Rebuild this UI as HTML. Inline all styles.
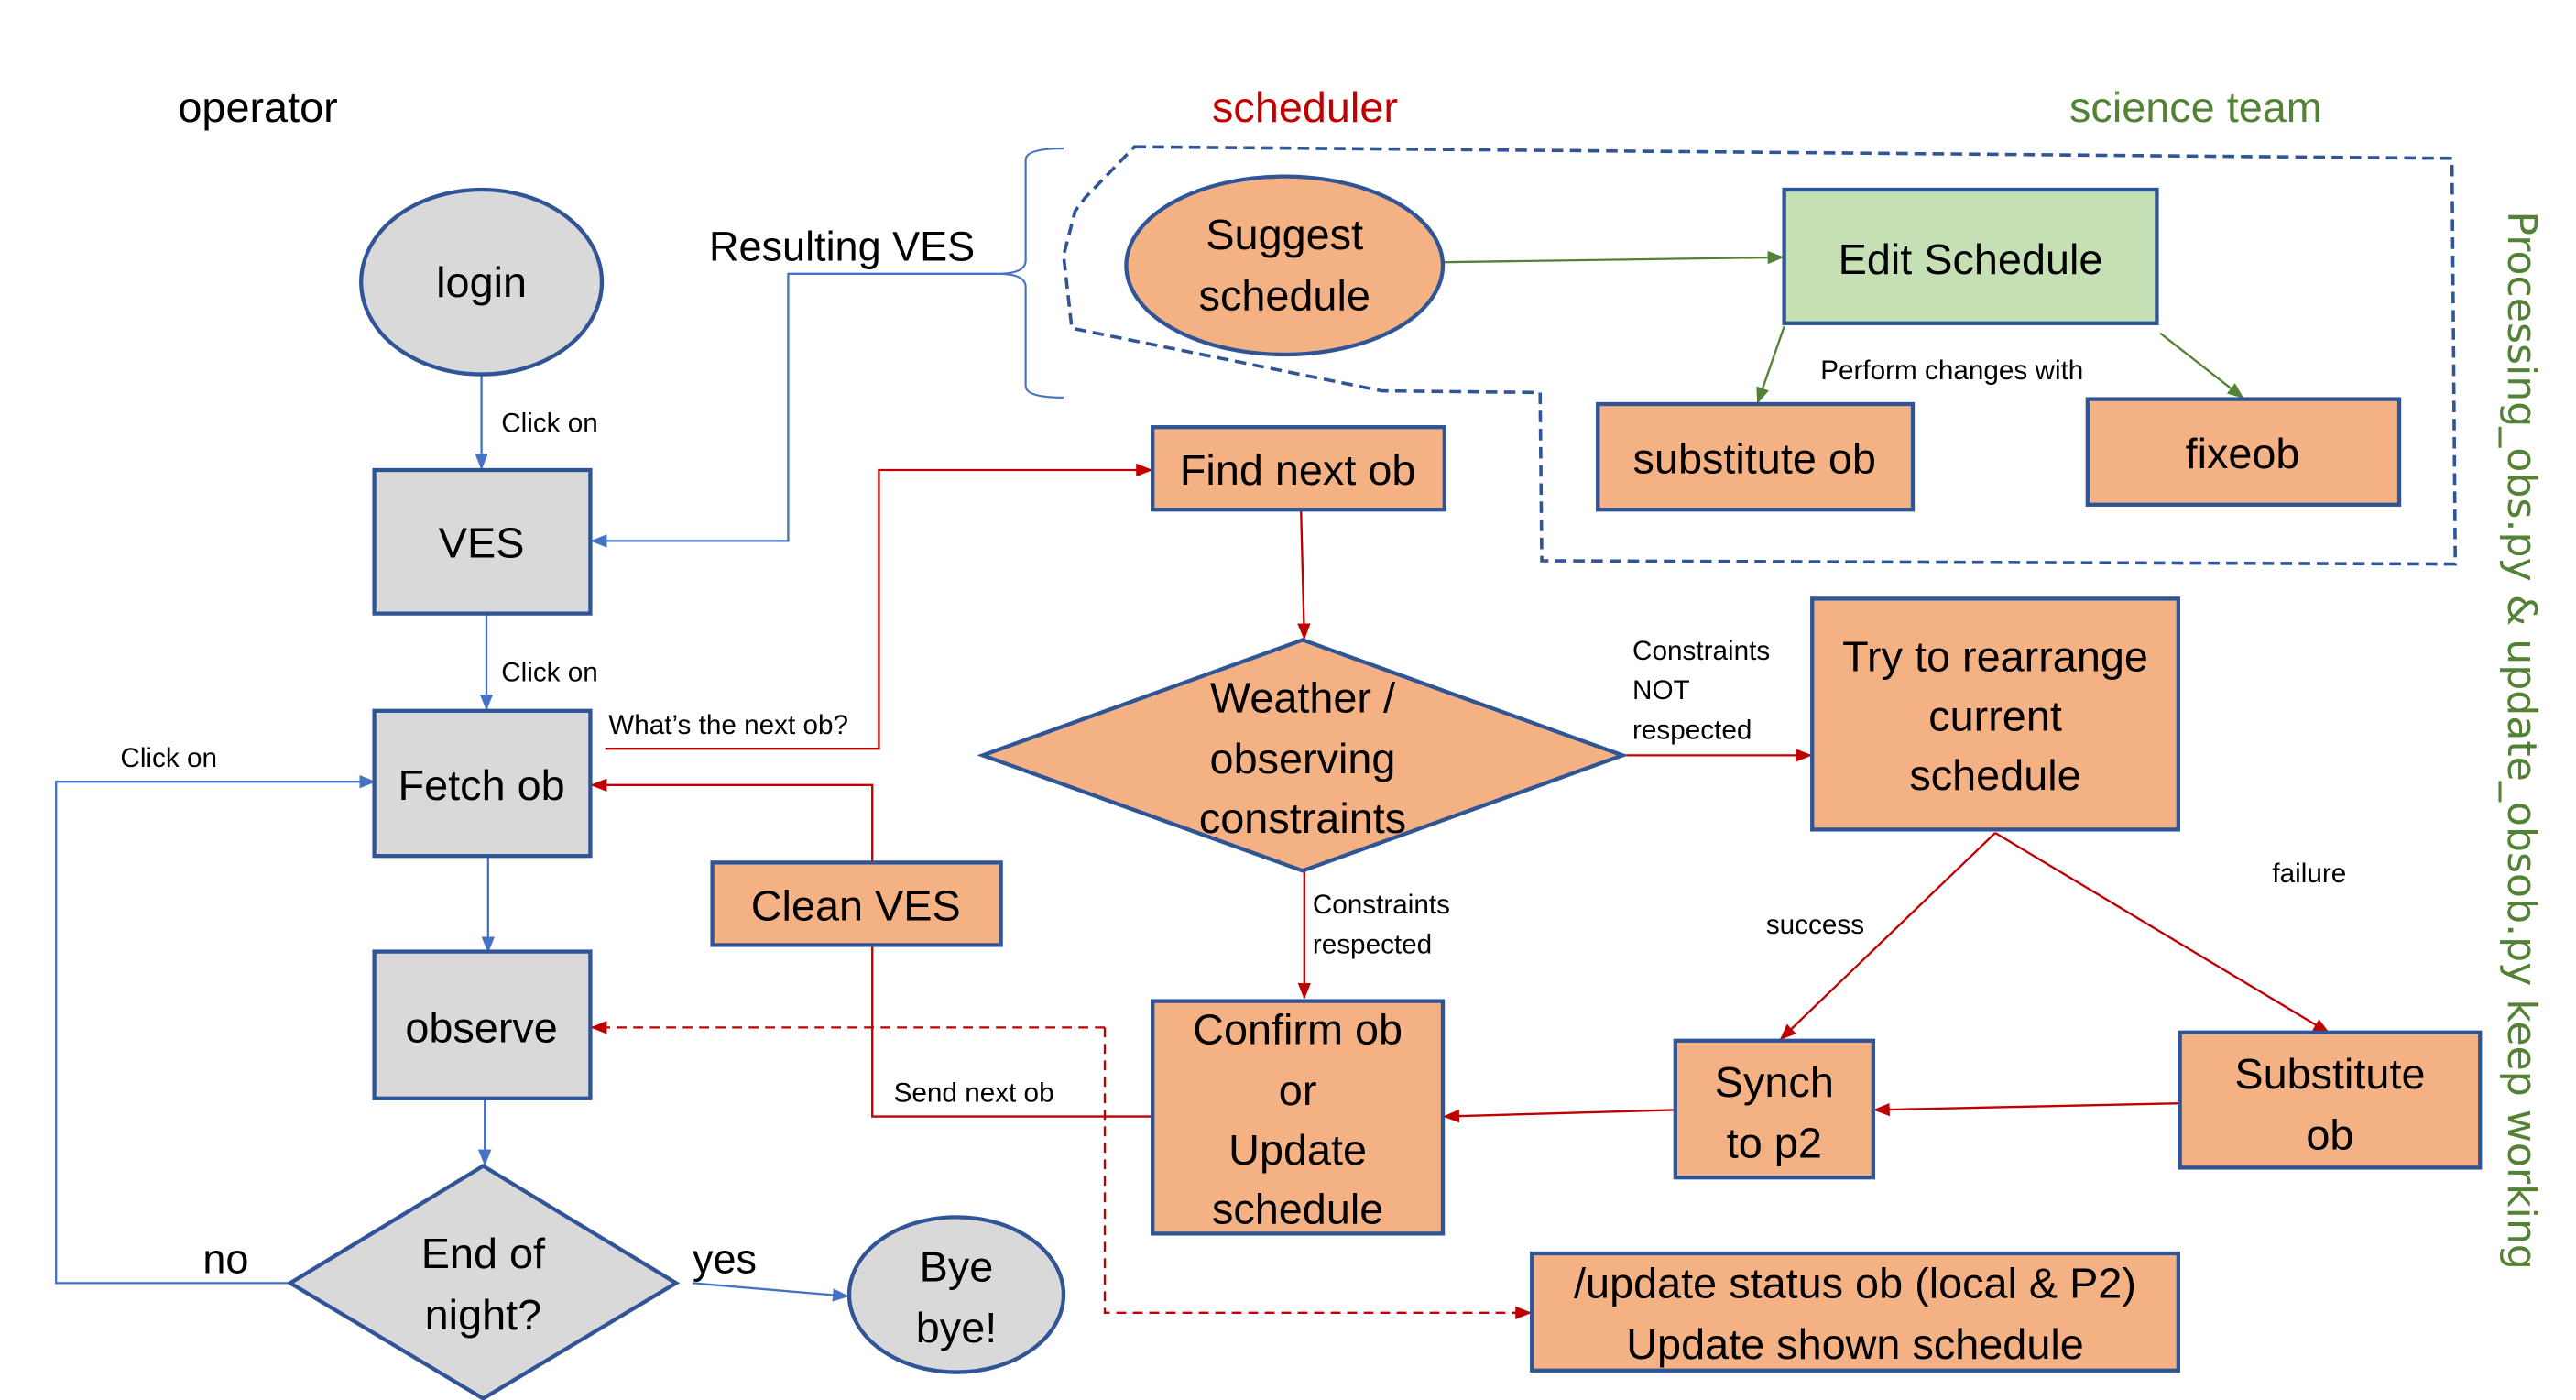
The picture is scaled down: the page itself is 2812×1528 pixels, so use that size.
<!DOCTYPE html>
<html><head><meta charset="utf-8"><style>
html,body{margin:0;padding:0;background:#fff;}
svg{display:block;}
text{font-family:"Liberation Sans Narrow","Liberation Sans",sans-serif;fill:#000;}
.big{font-size:25px;}
.sm{font-size:16.5px;}
</style></head><body>
<svg width="2812" height="1528" viewBox="0 0 1562.2 848.9" preserveAspectRatio="none" xmlns="http://www.w3.org/2000/svg">
<defs>
<marker id="ab" markerWidth="10" markerHeight="10" refX="9" refY="5" orient="auto" markerUnits="userSpaceOnUse"><path d="M0,1 L10,5 L0,9z" fill="#4472c4"/></marker>
<marker id="ar" markerWidth="10" markerHeight="10" refX="9" refY="5" orient="auto" markerUnits="userSpaceOnUse"><path d="M0,1 L10,5 L0,9z" fill="#c00000"/></marker>
<marker id="ag" markerWidth="10" markerHeight="10" refX="9" refY="5" orient="auto" markerUnits="userSpaceOnUse"><path d="M0,1 L10,5 L0,9z" fill="#548235"/></marker>
</defs>
<text x="108" y="74" style="font-size:26px">operator</text>
<text x="735" y="74" style="font-size:26px;fill:#c00000">scheduler</text>
<text x="1255" y="74" style="font-size:26px;fill:#548235">science team</text>
<text transform="translate(1521,128) rotate(90)" style="font-family:'DejaVu Sans',sans-serif;font-size:24px;fill:#548235" textLength="642" lengthAdjust="spacingAndGlyphs">Processing_obs.py &amp; update_obsob.py keep working</text>

<path d="M688,89 L1487,96 L1489,342 L935,340 L934,238 L838,237 L650,199 L645,155 L652,128 L658,120 Z" fill="none" stroke="#2f5597" stroke-width="2" stroke-dasharray="7,4"/>
<path d="M645,90 Q622,90 622,97 L622,158 Q622,166 605,166 Q622,166 622,174 L622,234 Q622,241 645,241" fill="none" stroke="#4472c4" stroke-width="1.2"/>
<text x="430" y="158" class="big">Resulting  VES</text>

<g stroke="#4472c4" stroke-width="1.3" fill="none">
<path d="M292,227 L292,284" marker-end="url(#ab)"/>
<path d="M605,166 L478,166 L478,328 L359,328" marker-end="url(#ab)"/>
<path d="M295,373 L295,430" marker-end="url(#ab)"/>
<path d="M296,519 L296,577" marker-end="url(#ab)"/>
<path d="M294,666 L294,706" marker-end="url(#ab)"/>
<path d="M176,778 L34,778 L34,474 L227,474" marker-end="url(#ab)"/>
<path d="M420,778 L514,786" marker-end="url(#ab)"/>
</g>
<text x="304" y="262" class="sm">Click on</text>
<text x="304" y="413" class="sm">Click on</text>
<text x="73" y="465" class="sm">Click on</text>
<text x="123" y="772" class="big">no</text>
<text x="420" y="772" class="big">yes</text>

<g stroke="#c00000" stroke-width="1.3" fill="none">
<path d="M367,454 L533,454 L533,285 L698,285" marker-end="url(#ar)"/>
<path d="M789,310 L791,387" marker-end="url(#ar)"/>
<path d="M984,458 L1098,458" marker-end="url(#ar)"/>
<path d="M791,528 L791,605" marker-end="url(#ar)"/>
<path d="M1210,505 L1080,630" marker-end="url(#ar)"/>
<path d="M1210,505 L1412,626" marker-end="url(#ar)"/>
<path d="M1322,669 L1137,673" marker-end="url(#ar)"/>
<path d="M1016,673 L876,677" marker-end="url(#ar)"/>
<path d="M699,677 L529,677 L529,476 L359,476" marker-end="url(#ar)"/>
<path d="M670,623 L359,623" stroke-dasharray="6,4" marker-end="url(#ar)"/>
<path d="M670,623 L670,796 L928,796" stroke-dasharray="6,4" marker-end="url(#ar)"/>
</g>
<text x="369" y="445" class="sm">What’s the next ob?</text>
<text x="990" y="400" class="sm">Constraints</text>
<text x="990" y="424" class="sm">NOT</text>
<text x="990" y="448" class="sm">respected</text>
<text x="796" y="554" class="sm">Constraints</text>
<text x="796" y="578" class="sm">respected</text>
<text x="1071" y="566" class="sm">success</text>
<text x="1378" y="535" class="sm">failure</text>
<text x="542" y="668" class="sm">Send next ob</text>

<g stroke="#548235" stroke-width="1.3" fill="none">
<path d="M876,159 L1081,156" marker-end="url(#ag)"/>
<path d="M1082,198 L1066,244" marker-end="url(#ag)"/>
<path d="M1310,202 L1360,241" marker-end="url(#ag)"/>
</g>
<text x="1104" y="230" class="sm">Perform changes with</text>

<g stroke="#2f5597" stroke-width="2.4">
<ellipse cx="292" cy="171" rx="73" ry="56" fill="#d9d9d9"/>
<rect x="227" y="285" width="131" height="87" fill="#d9d9d9"/>
<rect x="227" y="431" width="131" height="88" fill="#d9d9d9"/>
<rect x="227" y="577" width="131" height="89" fill="#d9d9d9"/>
<path d="M293,707 L410,778 L293,848 L176,778 Z" fill="#d9d9d9"/>
<ellipse cx="580" cy="785" rx="65" ry="47" fill="#d9d9d9"/>
<ellipse cx="779" cy="161" rx="96" ry="54" fill="#f4b183"/>
<rect x="1082" y="115" width="226" height="81" fill="#c5e0b4"/>
<rect x="969" y="245" width="191" height="64" fill="#f4b183"/>
<rect x="1266" y="242" width="189" height="64" fill="#f4b183"/>
<rect x="699" y="259" width="177" height="50" fill="#f4b183"/>
<path d="M790,388 L984,458 L790,528 L596,458 Z" fill="#f4b183"/>
<rect x="1099" y="363" width="222" height="140" fill="#f4b183"/>
<rect x="699" y="607" width="176" height="141" fill="#f4b183"/>
<rect x="1016" y="631" width="120" height="83" fill="#f4b183"/>
<rect x="1322" y="626" width="182" height="82" fill="#f4b183"/>
<rect x="432" y="523" width="175" height="50" fill="#f4b183"/>
<rect x="929" y="760" width="392" height="71" fill="#f4b183"/>
</g>

<g class="big" text-anchor="middle" style="font-size:26px">
<text x="292" y="180">login</text>
<text x="292" y="338">VES</text>
<text x="292" y="485">Fetch ob</text>
<text x="292" y="632">observe</text>
<text x="293" y="769">End of</text>
<text x="293" y="806">night?</text>
<text x="580" y="777">Bye</text>
<text x="580" y="814">bye!</text>
<text x="779" y="151">Suggest</text>
<text x="779" y="188">schedule</text>
<text x="1195" y="166">Edit Schedule</text>
<text x="1064" y="287">substitute ob</text>
<text x="1360" y="284">fixeob</text>
<text x="787" y="294">Find next ob</text>
<text x="790" y="432">Weather /</text>
<text x="790" y="469">observing</text>
<text x="790" y="505">constraints</text>
<text x="1210" y="407">Try to rearrange</text>
<text x="1210" y="443">current</text>
<text x="1210" y="479">schedule</text>
<text x="787" y="633">Confirm ob</text>
<text x="787" y="670">or</text>
<text x="787" y="706">Update</text>
<text x="787" y="742">schedule</text>
<text x="1076" y="665">Synch</text>
<text x="1076" y="702">to p2</text>
<text x="1413" y="660">Substitute</text>
<text x="1413" y="697">ob</text>
<text x="519" y="558">Clean VES</text>
<text x="1125" y="787">/update status ob (local &amp; P2)</text>
<text x="1125" y="824">Update shown schedule</text>
</g>
</svg>
</body></html>
